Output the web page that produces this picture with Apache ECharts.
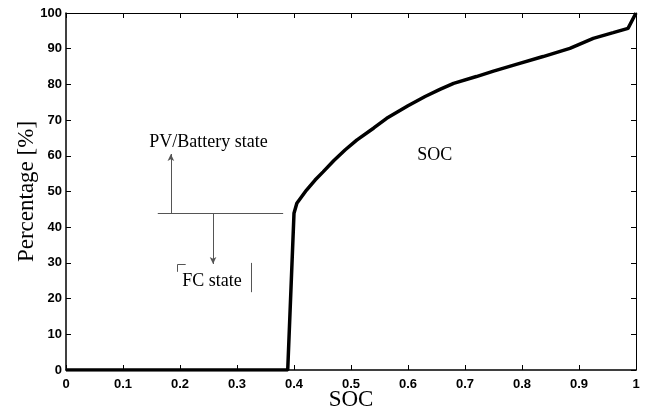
<!DOCTYPE html>
<html>
<head>
<meta charset="utf-8">
<script src="https://cdn.jsdelivr.net/npm/echarts@6/dist/echarts.min.js"></script>
<style>html,body{margin:0;padding:0;background:#fff;}#c{width:648px;height:414px;}</style>
</head>
<body>
<div id="c"></div>
<script>
var socX = [0, 0.385, 0.389, 0.4, 0.405, 0.422, 0.437, 0.451, 0.47, 0.49, 0.51, 0.54, 0.5626, 0.6, 0.63, 0.656, 0.68, 0.72, 0.75, 0.79, 0.837, 0.884, 0.925, 0.96, 0.986, 1.0];
var pctY = [0, 0, 0, 43.9, 46.7, 50.4, 53.2, 55.5, 58.7, 61.7, 64.4, 67.8, 70.5, 74, 76.6, 78.6, 80.3, 82.2, 83.7, 85.6, 87.8, 90.1, 92.9, 94.5, 95.7, 100];
var xTickLabels = ['0','0.1','0.2','0.3','0.4','0.5','0.6','0.7','0.8','0.9','1'];
var yTickLabels = ['0','10','20','30','40','50','60','70','80','90','100'];
// annotation anchors in data units
var thresholdLine = [[0.161, 43.9], [0.381, 43.9]];
var upArrow = [[0.184, 43.9], [0.184, 60.5]];
var downArrow = [[0.258, 43.9], [0.258, 29.7]];
var bracketRight = [[0.3246, 30.0], [0.3246, 21.8]];
var bracketLeftH = [[0.196, 29.6], [0.21, 29.6]];
var bracketLeftV = [[0.196, 29.6], [0.196, 27.5]];
var labels = [
  {text: 'PV/Battery state', x: 0.25, y: 63.9},
  {text: 'FC state', x: 0.256, y: 24.9},
  {text: 'SOC', x: 0.647, y: 60.2}
];

var data = socX.map(function (x, i) { return [x, pctY[i]]; });
function seg(p, arrow) {
  return [{coord: p[0], symbol: 'none'}, {coord: p[1], symbol: arrow ? 'arrow' : 'none', symbolSize: [5, 7]}];
}
var serif = 'Liberation Serif';
var tickFont = {fontFamily: 'Liberation Sans', fontWeight: 'bold', fontSize: 13, color: '#000'};

var chart = echarts.init(document.getElementById('c'), null, {renderer: 'canvas'});
chart.setOption({
  animation: false,
  backgroundColor: '#fff',
  grid: {left: 66, right: 12, top: 13, bottom: 44, containLabel: false, outerBoundsMode: 'none'},
  xAxis: [{
    type: 'value', min: 0, max: 1, interval: 0.1, position: 'bottom',
    name: 'SOC', nameLocation: 'middle', nameGap: 30, nameMoveOverlap: false,
    nameTextStyle: {fontFamily: serif, fontSize: 23, color: '#000', verticalAlign: 'middle'},
    axisLine: {show: true, lineStyle: {color: '#000', width: 1.5}},
    axisTick: {show: true, inside: true, length: 5, lineStyle: {color: '#000'}},
    axisLabel: Object.assign({margin: 8, formatter: function (v) { return xTickLabels[Math.round(v * 10)]; }}, tickFont),
    splitLine: {show: false}
  }, {
    type: 'value', min: 0, max: 1, interval: 0.1, position: 'top',
    axisLine: {show: true, onZero: false, lineStyle: {color: '#000', width: 1}},
    axisTick: {show: true, inside: true, length: 5, lineStyle: {color: '#000'}},
    axisLabel: {show: false}, splitLine: {show: false}
  }],
  yAxis: [{
    type: 'value', min: 0, max: 100, interval: 10, position: 'left',
    name: 'Percentage [%]', nameLocation: 'middle', nameGap: 28, nameRotate: 90, nameMoveOverlap: false,
    nameTextStyle: {fontFamily: serif, fontSize: 23, color: '#000'},
    axisLine: {show: true, lineStyle: {color: '#000', width: 1.5}},
    axisTick: {show: true, inside: true, length: 5, lineStyle: {color: '#000'}},
    axisLabel: Object.assign({margin: 4, formatter: function (v) { return yTickLabels[Math.round(v / 10)]; }}, tickFont),
    splitLine: {show: false}
  }, {
    type: 'value', min: 0, max: 100, interval: 10, position: 'right',
    axisLine: {show: true, onZero: false, lineStyle: {color: '#000', width: 1}},
    axisTick: {show: true, inside: true, length: 5, lineStyle: {color: '#000'}},
    axisLabel: {show: false}, splitLine: {show: false}
  }],
  series: [{
    type: 'line', data: data, showSymbol: false, symbol: 'none',
    lineStyle: {color: '#000', width: 3.5}, z: 5,
    markLine: {
      silent: true, animation: false,
      label: {show: false},
      lineStyle: {color: '#555', width: 1, type: 'solid'},
      data: [
        seg(thresholdLine, false), seg(upArrow, true), seg(downArrow, true),
        seg(bracketRight, false), seg(bracketLeftH, false), seg(bracketLeftV, false)
      ]
    },
    markPoint: {
      silent: true, animation: false, symbol: 'circle', symbolSize: 0,
      label: {show: true, position: 'inside', fontFamily: serif, fontSize: 18, color: '#000',
        formatter: function (p) { return p.name; }},
      data: labels.map(function (l) { return {name: l.text, coord: [l.x, l.y]}; })
    }
  }]
});
</script>
</body>
</html>
